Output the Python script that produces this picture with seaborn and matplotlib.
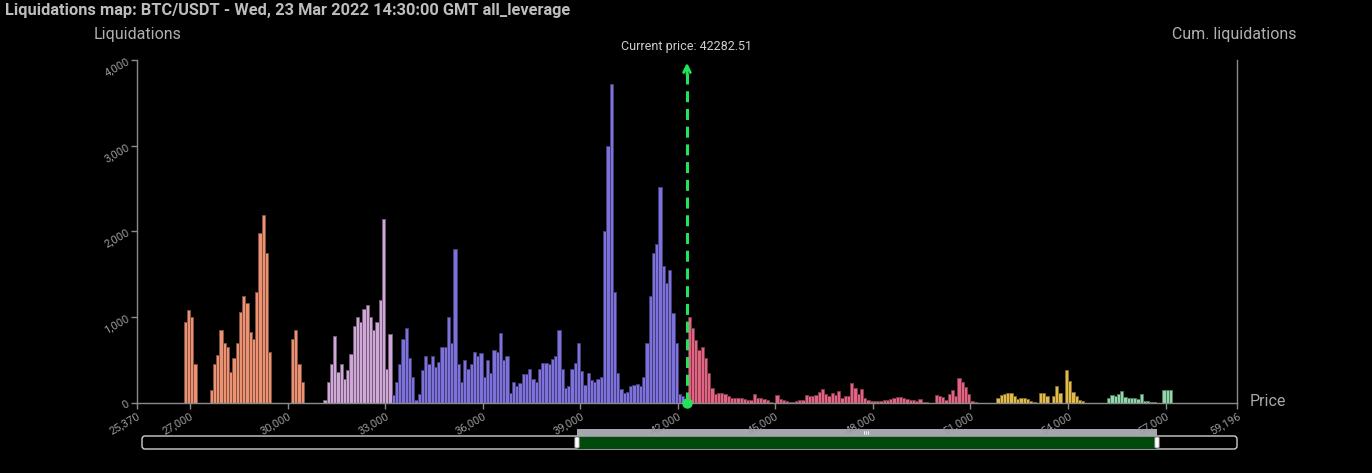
import numpy as np
import pandas as pd
import matplotlib
matplotlib.use("Agg")
import matplotlib.pyplot as plt
from matplotlib.patches import FancyBboxPatch, Rectangle
from matplotlib.ticker import FuncFormatter
from matplotlib.colors import to_rgb
import seaborn as sns

# ---------------- data (100-USD price bins, value = liquidations) ----------------
BIN = 100
orange_start = 26800
orange_liq = [950, 1090, 1000, 450, 0, 0, 0, 0, 150, 450, 560, 850, 700, 650, 360, 530, 700,
              1060, 1250, 1170, 830, 750, 1300, 1980, 2190, 1750, 600, 0, 0, 0, 0, 0, 0,
              750, 850, 450, 250]
lilac_start = 31100
lilac_liq = [40, 250, 460, 780, 360, 450, 280, 380, 570, 900, 1000, 950, 1100, 1140, 1000,
             850, 950, 1200, 2150, 400, 800]
blue_start = 33200
blue_liq = [90, 250, 450, 750, 880, 520, 300, 30, 110, 380, 550, 460, 550, 420, 480, 650, 650,
            1000, 700, 1800, 450, 250, 500, 400, 460, 600, 550, 580, 300, 500, 350, 620, 600,
            820, 500, 550, 120, 250, 200, 230, 340, 340, 400, 280, 240, 400, 470, 470, 450,
            510, 550, 850, 400, 175, 200, 400, 470, 700, 373, 210, 350, 270, 249, 280, 300,
            2000, 3000, 3720, 1300, 350, 165, 120, 130, 194, 210, 220, 194, 307, 700, 1250,
            1750, 1850, 2520, 1600, 1400, 1550, 1050, 700, 100, 80]
pink_start = 42300
pink_liq = [1000, 880, 730, 620, 650, 520, 350, 180, 110, 115, 120, 110, 80, 60, 54, 56, 58, 50,
            35, 35, 100, 60, 60, 50, 35, 16, 5, 90, 43, 30, 23, 12, 12, 20, 35, 35, 90, 80, 80,
            93, 132, 160, 110, 80, 120, 90, 140, 60, 80, 80, 230, 180, 100, 160, 60, 35, 27, 27,
            27, 27, 35, 35, 45, 54, 66, 74, 62, 43, 35, 35, 23, 43, 8, 8, 0, 0, 93, 82, 66, 40,
            100, 150, 82, 290, 250, 190, 110, 20, 16]
yellow_start = 51800
yellow_liq = [55, 90, 105, 115, 112, 80, 48, 54, 62, 43, 23, 12, 0, 113, 113, 82, 0, 82, 200,
              113, 0, 380, 260, 130, 80, 40, 23]
green_start = 55200
green_liq = [60, 90, 82, 100, 140, 65, 60, 55, 54, 43, 105, 23, 23, 12, 12, 0, 0, 151, 151, 151]

groups = ["g1", "g2", "g3", "g4", "g5", "g6"]
starts = [orange_start, lilac_start, blue_start, pink_start, yellow_start, green_start]
values = [orange_liq, lilac_liq, blue_liq, pink_liq, yellow_liq, green_liq]
colors = ["#ec9273", "#cfa8d8", "#7d71dc", "#e36482", "#e4bb4a", "#90d8a9"]

current_price = 42282.51
x_min, x_max = 25370, 59196
x_ticks = [25370, 27000, 30000, 33000, 36000, 39000, 42000, 45000, 48000, 51000, 54000, 57000, 59196]
y_ticks = [0, 1000, 2000, 3000, 4000]
title = "Liquidations map: BTC/USDT - Wed, 23 Mar 2022 14:30:00 GMT all_leverage"

rows = []
for g, s, vals in zip(groups, starts, values):
    for i, v in enumerate(vals):
        rows.append({"price": s + i * BIN + BIN / 2, "liq": v, "grp": g})
df = pd.DataFrame(rows)

# ---------------- figure ----------------
W, H = 1372, 473
sns.set_theme(style="dark")
plt.rcParams["font.family"] = ["Roboto", "DejaVu Sans"]
fig = plt.figure(figsize=(W / 100, H / 100), dpi=100, facecolor="black")

# decorative range-slider layer, drawn underneath the chart axes
ov = fig.add_axes([0, 0, 1, 1], facecolor="none")
ov.set_zorder(-1)
ov.set_xlim(0, W)
ov.set_ylim(H, 0)
ov.axis("off")

L, R, T, B = 137, 1237, 60, 403
ax = fig.add_axes([L / W, 1 - B / H, (R - L) / W, (B - T) / H])
ax.set_facecolor("black")

for g, s, vals, c in zip(groups, starts, values, colors):
    sub = df[df["grp"] == g]
    dark = tuple(0.55 * v for v in to_rgb(c))
    sns.histplot(data=sub, x="price", weights="liq", color=c, binwidth=BIN,
                 binrange=(s, s + len(vals) * BIN), element="bars", fill=True, alpha=1,
                 edgecolor=dark, linewidth=0.7, legend=False, ax=ax)

ax.set_xlim(x_min, x_max)
ax.set_ylim(0, 4000)
ax.set_xlabel("")
ax.set_ylabel("")
ax.grid(False)

axis_col = "#8a8a8a"
for side in ["left", "bottom", "right"]:
    ax.spines[side].set_visible(True)
    ax.spines[side].set_color(axis_col)
    ax.spines[side].set_linewidth(1.0)
ax.spines["top"].set_visible(False)

ax.set_xticks(x_ticks)
ax.set_yticks(y_ticks)
fmt = FuncFormatter(lambda v, p: f"{int(round(v)):,}")
ax.xaxis.set_major_formatter(fmt)
ax.yaxis.set_major_formatter(fmt)
ax.tick_params(axis="both", which="major", colors=axis_col, labelcolor="#9a9a9a",
               length=4, width=1, labelsize=8.0, direction="out", bottom=True, left=True)
ax.tick_params(axis="y", pad=2)
ax.tick_params(axis="x", pad=1.5)
for lab in ax.get_xticklabels():
    lab.set_rotation(30)
    lab.set_ha("right")
    lab.set_va("top")
    lab.set_rotation_mode("anchor")
for lab in ax.get_yticklabels():
    lab.set_rotation(30)
    lab.set_ha("right")
    lab.set_va("center")
    lab.set_rotation_mode("anchor")

# current price marker
green = "#22e35a"
ax.plot([current_price, current_price], [0, 3930], color=green, lw=2.2,
        dashes=(3.6, 2.2), solid_capstyle="butt", zorder=5, clip_on=False)
ax.annotate("", xy=(current_price, 4000), xytext=(current_price, 3800),
            arrowprops=dict(arrowstyle="->", color=green, lw=2.0, mutation_scale=12),
            zorder=6, annotation_clip=False)
ax.plot([current_price], [0], marker="o", markersize=6.5, color=green, zorder=7, clip_on=False)
ax.annotate(f"Current price: {current_price}", xy=(current_price, 4000), xytext=(0, 10),
            textcoords="offset points", ha="center", va="center", fontsize=9,
            color="#cfcfcf", annotation_clip=False)

# ---------------- texts ----------------
def fx(x):
    return x / W

def fy(y):
    return 1 - y / H

fig.text(fx(5), fy(11), title, ha="left", va="center", fontsize=11.8,
         fontweight="bold", color="#bdbdbd")
fig.text(fx(137.5), fy(35), "Liquidations", ha="center", va="center", fontsize=11.5, color="#b0b0b0")
fig.text(fx(1234.5), fy(35), "Cum. liquidations", ha="center", va="center", fontsize=11.5, color="#b0b0b0")
fig.text(fx(1250), fy(401), "Price", ha="left", va="center", fontsize=11.5, color="#a8a8a8")

# ---------------- range slider (navigator) ----------------
ov.add_patch(FancyBboxPatch((142, 436), 1095, 13, boxstyle="round,pad=0,rounding_size=3",
                            facecolor="black", edgecolor="#d0d0d0", lw=1.0))
ov.add_patch(Rectangle((577, 429), 580, 6.5, facecolor="#a4a8ae", edgecolor="none"))
ov.add_patch(Rectangle((577, 436.5), 580, 12.2, facecolor="#014a0c", edgecolor="none"))
for hx in (577, 1157):
    ov.add_patch(FancyBboxPatch((hx - 2.2, 437), 4.4, 11, boxstyle="round,pad=0,rounding_size=1.2",
                                facecolor="white", edgecolor="#888888", lw=0.6))
for dx in (-2, 0, 2):
    ov.plot([866 + dx, 866 + dx], [430.5, 433.5], color="white", lw=0.6)

fig.savefig("out.png", dpi=100, facecolor="black")
